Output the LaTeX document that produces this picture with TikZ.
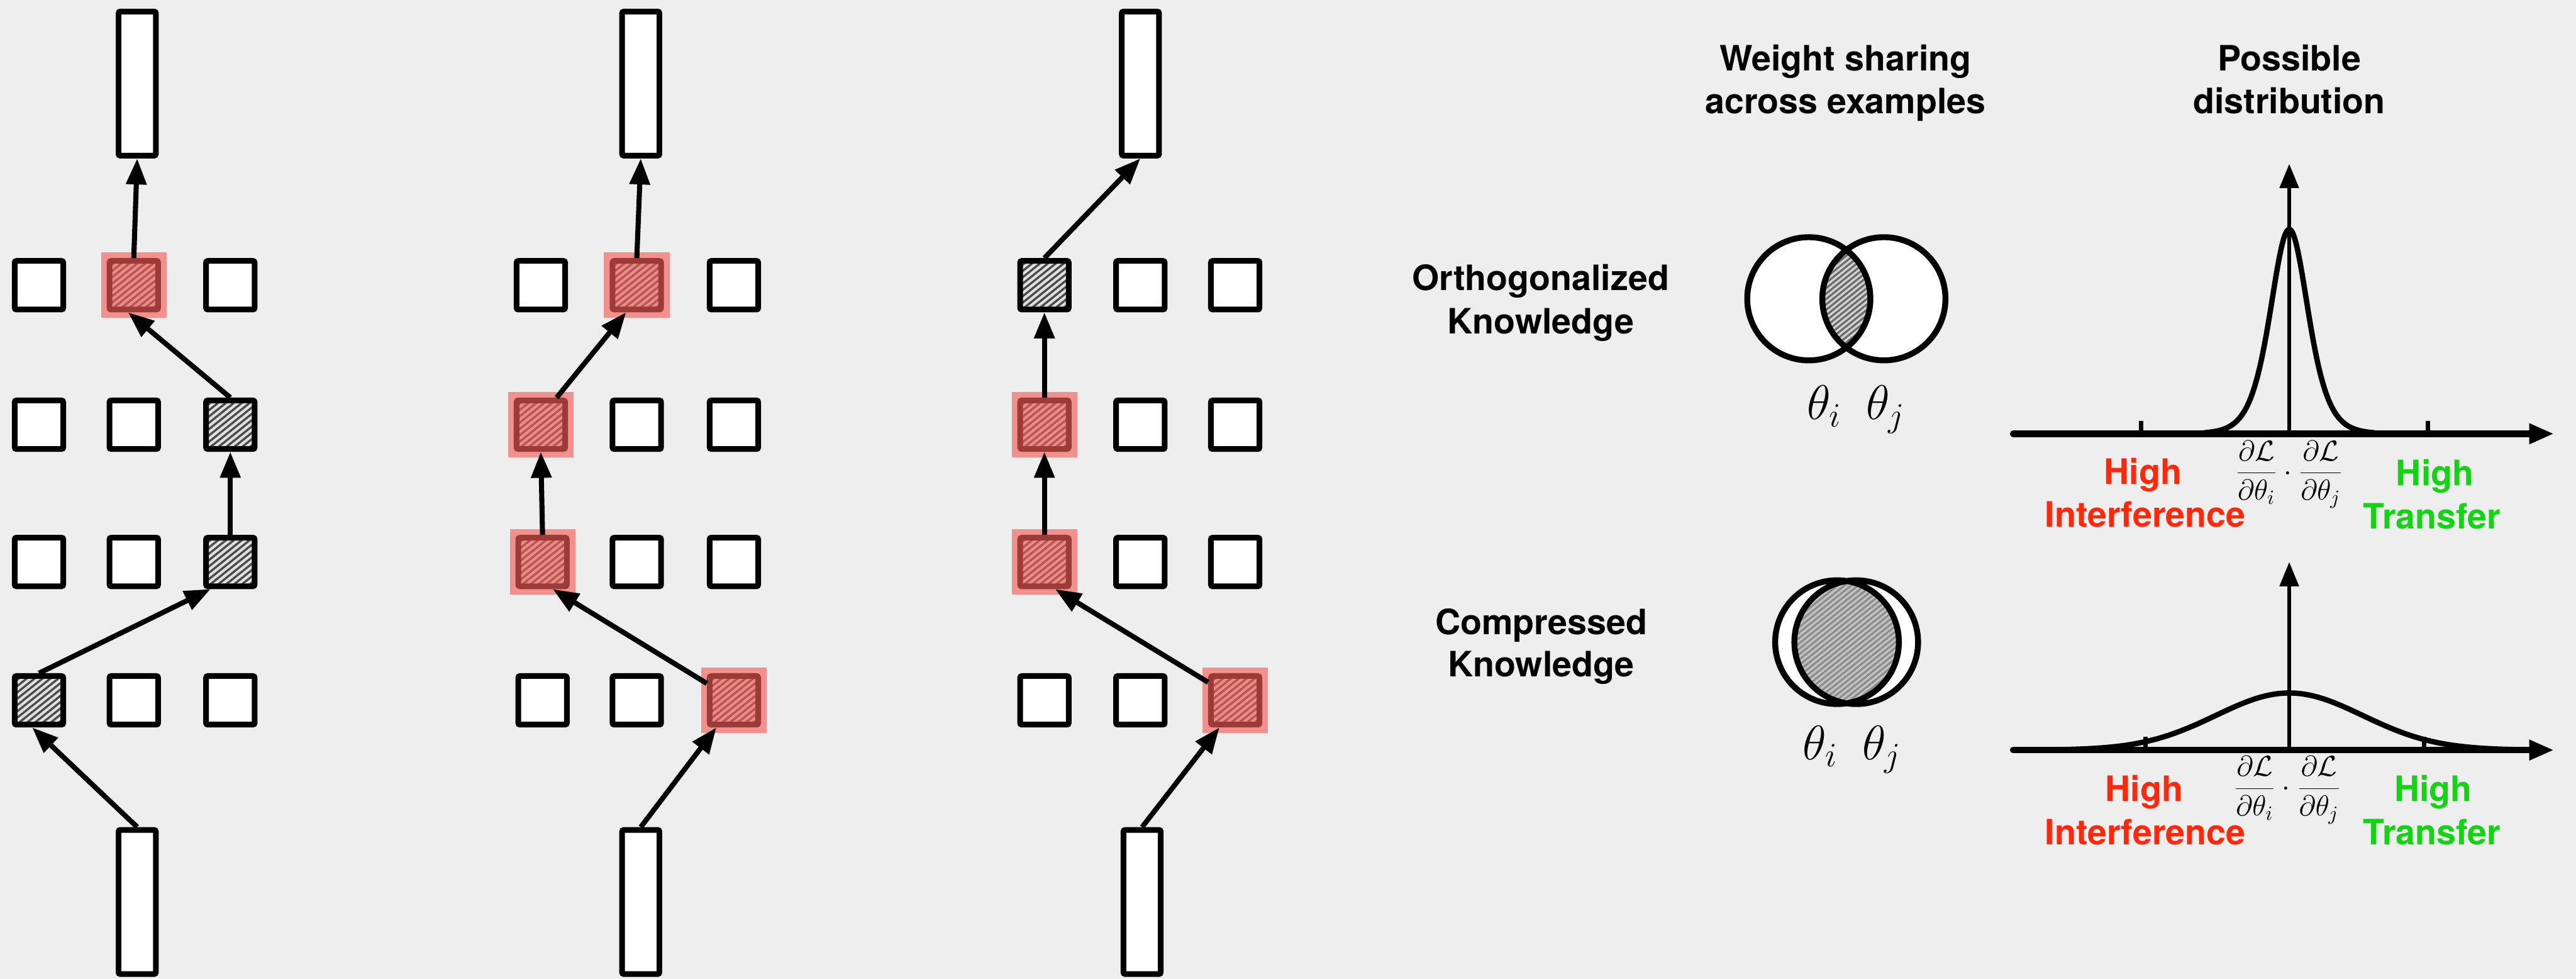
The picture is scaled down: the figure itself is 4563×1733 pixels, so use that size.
\RequirePackage{fix-cm}
\documentclass[tikz,border=0pt]{standalone}
\usepackage{fontspec}
\newfontfamily\hv{TeX Gyre Heros}
\usetikzlibrary{arrows.meta,calc}

\definecolor{bgc}{HTML}{EEEEEE}
\definecolor{hlred}{RGB}{243,91,86}
\definecolor{txtred}{RGB}{255,40,10}
\definecolor{txtgreen}{RGB}{20,210,20}
\definecolor{hatchbase}{gray}{0.88}
\definecolor{hatchline}{gray}{0.30}
\definecolor{vennbaseA}{gray}{0.82}
\definecolor{vennlineA}{gray}{0.42}
\definecolor{vennbaseB}{gray}{0.76}
\definecolor{vennlineB}{gray}{0.55}

\tikzset{
  unit/.style={draw=black, fill=white, line width=1mm, rounded corners=0.3mm,
    minimum size=8.6mm, inner sep=0pt},
  hunit/.style={unit, fill=hatchbase,
    path picture={
      \foreach \k in {-12,...,12}{
        \draw[line width=0.38mm, hatchline]
          ($(path picture bounding box.center)+(\k*14-100,80)$) -- ++(200,-160);
      }}},
  iobox/.style={draw=black, fill=white, line width=1mm, rounded corners=0.3mm,
    minimum width=6.6mm, minimum height=25.5mm, inner sep=0pt},
  hl/.style={draw=none, fill=hlred, fill opacity=0.64, minimum size=11.6mm, inner sep=0pt},
  conn/.style={line width=0.9mm, -{Triangle[length=4.6mm,width=3.5mm]}},
  lbl/.style={font={\hv\bfseries\fontsize{17.6pt}{21pt}\selectfont}, inner sep=0pt, anchor=base},
  grad/.style={font={\fontsize{14.5pt}{17pt}\selectfont}, inner sep=0pt, anchor=base},
  theta/.style={font={\fontsize{24.5pt}{29pt}\selectfont}, inner sep=0pt, anchor=base west},
  xaxis/.style={line width=1.15mm, line cap=round, -{Triangle[length=4.4mm,width=3.4mm]}},
  yaxis/.style={line width=0.7mm, -{Triangle[length=4.3mm,width=3.3mm]}},
  tick/.style={line width=0.8mm},
  curve/.style={line width=0.95mm, line cap=round, line join=round},
}

\begin{document}
\begin{tikzpicture}[x=0.01cm, y=-0.01cm]
\fill[bgc] (0,0) rectangle (4563,1733);
\useasboundingbox (0,0) rectangle (4563,1733);

% ---------- three networks: input / hidden grid / output ----------
\foreach \nm/\px in {1/243, 2/1135, 3/2020}{
  \node[iobox] (out\nm) at (\px,148) {};
}
\node[iobox] (in1) at (243,1597) {};
\node[iobox] (in2) at (1135,1597) {};
\node[iobox] (in3) at (2023,1597) {};

\foreach \nm/\px/\py/\st in {
  a11/69/505/unit,  a12/237/505/hunit,  a13/408/505/unit,
  a21/69/752/unit,  a22/237/752/unit,   a23/408/752/hunit,
  a31/69/995/unit,  a32/237/995/unit,   a33/408/995/hunit,
  a41/69/1240/hunit,a42/237/1240/unit,  a43/408/1240/unit,
  b11/958/505/unit, b12/1128/505/hunit, b13/1300/505/unit,
  b21/958/752/hunit,b22/1128/752/unit,  b23/1300/752/unit,
  b31/961/995/hunit,b32/1128/995/unit,  b33/1300/995/unit,
  b41/961/1240/unit,b42/1128/1240/unit, b43/1300/1240/hunit,
  c11/1850/505/hunit,c12/2020/505/unit, c13/2188/505/unit,
  c21/1850/752/hunit,c22/2020/752/unit, c23/2188/752/unit,
  c31/1850/995/hunit,c32/2020/995/unit, c33/2188/995/unit,
  c41/1850/1240/unit,c42/2020/1240/unit,c43/2188/1240/hunit}{
  \node[\st] (\nm) at (\px,\py) {};
}

% red highlight over the active units
\foreach \nm in {a12, b12, b21, b31, b43, c21, c31, c43}{
  \node[hl] (hl\nm) at (\nm) {};
}

% paths through the first network
\draw[conn] (in1.north) -- ($(a41.south)+(-12,0)$);
\draw[conn] (a41.north) -- ($(a33.south)+(-35,0)$);
\draw[conn] (a33.north) -- (a23.south);
\draw[conn] (a23.north) -- ($(a12.south)+(-10,0)$);
\draw[conn] (a12.north) -- (out1.south);

% paths through the second network
\draw[conn] (in2.north) -- ($(b43.south)+(-31,0)$);
\draw[conn] ($(b43.west)+(0,-30)$) -- ($(b31.south)+(18,0)$);
\draw[conn] (b31.north) -- (b21.south);
\draw[conn] ($(b21.north)+(28,0)$) -- ($(b12.south)+(-19,0)$);
\draw[conn] (b12.north) -- (out2.south);

% paths through the third network
\draw[conn] (in3.north) -- ($(c43.south)+(-28,0)$);
\draw[conn] ($(c43.west)+(0,-32)$) -- ($(c31.south)+(19,0)$);
\draw[conn] (c31.north) -- (c21.south);
\draw[conn] (c21.north) -- (c11.south);
\draw[conn] (c11.north) -- (out3.south);

% ---------- column headers ----------
\node[lbl] (hdA1) at (3269,125) {Weight sharing};
\node[lbl] (hdA2) at (3269,201) {across examples};
\node[lbl] (hdB1) at (4055,125) {Possible};
\node[lbl] (hdB2) at (4055,201) {distribution};

% ---------- row labels ----------
\node[lbl] (orth1) at (2729,514) {Orthogonalized};
\node[lbl] (orth2) at (2729,591) {Knowledge};
\node[lbl] (comp1) at (2730,1123) {Compressed};
\node[lbl] (comp2) at (2730,1198) {Knowledge};

% ---------- Venn diagram: small overlap ----------
\begin{scope}[line width=1.05mm]
  \fill[white] (3204,529) circle[radius=10.9mm] (3337,529) circle[radius=10.9mm];
  \begin{scope}
    \clip (3204,529) circle[radius=10.9mm];
    \clip (3337,529) circle[radius=10.9mm];
    \fill[vennbaseA] (3150,400) rectangle (3400,660);
    \foreach \k in {-20,...,20}
      \draw[line width=0.35mm, vennlineA] (3120+\k*12,650) -- ++(300,-240);
  \end{scope}
  \draw (3204,529) circle[radius=10.9mm] (3337,529) circle[radius=10.9mm];
\end{scope}
\node[theta] (thA1) at (3200,743) {$\theta_i$};
\node[theta] (thA2) at (3305,743) {$\theta_j$};

% ---------- Venn diagram: large overlap ----------
\begin{scope}[line width=1.05mm]
  \fill[white] (3254,1137) circle[radius=10.95mm] (3288,1137) circle[radius=10.95mm];
  \begin{scope}
    \clip (3254,1137) circle[radius=10.95mm];
    \clip (3288,1137) circle[radius=10.95mm];
    \fill[vennbaseB] (3130,1010) rectangle (3420,1270);
    \foreach \k in {-25,...,25}
      \draw[line width=0.35mm, vennlineB] (3120+\k*12,1260) -- ++(300,-240);
  \end{scope}
  \draw (3254,1137) circle[radius=10.95mm] (3288,1137) circle[radius=10.95mm];
\end{scope}
\node[theta] (thB1) at (3193,1345) {$\theta_i$};
\node[theta] (thB2) at (3298,1345) {$\theta_j$};

% ---------- distribution: narrow peak ----------
\draw[curve] plot[domain=3905:4205, samples=241, smooth]
  (\x, {768 - 362/(cosh((\x-4055)/45)*cosh((\x-4055)/45))});
\draw[tick] (3793,768) -- (3793,745);
\draw[tick] (4301,768) -- (4301,745);
\draw[yaxis] (4055,768) -- (4055,290);
\draw[xaxis] (3566,768) -- (4524,768);
\node[grad] (gA) at (4055,850)
  {$\displaystyle\frac{\partial\mathcal{L}}{\partial\theta_i}\cdot\frac{\partial\mathcal{L}}{\partial\theta_j}$};
\node[lbl, text=txtred] (rA1) at (3796,857) {High};
\node[lbl, text=txtred] (rA2) at (3800,933) {Interference};
\node[lbl, text=txtgreen] (gA1) at (4313,860) {High};
\node[lbl, text=txtgreen] (gA2) at (4308,936) {Transfer};

% ---------- distribution: broad bump ----------
\draw[curve] plot[domain=3645:4465, samples=200, smooth]
  (\x, {1328 - 101*exp(-0.5*((\x-4055)/130)*((\x-4055)/130))});
\draw[tick] (3800,1328) -- (3800,1305);
\draw[tick] (4294,1328) -- (4294,1305);
\draw[yaxis] (4055,1328) -- (4055,995);
\draw[xaxis] (3566,1328) -- (4524,1328);
\node[grad] (gB) at (4052,1409)
  {$\displaystyle\frac{\partial\mathcal{L}}{\partial\theta_i}\cdot\frac{\partial\mathcal{L}}{\partial\theta_j}$};
\node[lbl, text=txtred] (rB1) at (3798,1419) {High};
\node[lbl, text=txtred] (rB2) at (3800,1495) {Interference};
\node[lbl, text=txtgreen] (gB1) at (4310,1419) {High};
\node[lbl, text=txtgreen] (gB2) at (4308,1495) {Transfer};
\end{tikzpicture}
\end{document}
